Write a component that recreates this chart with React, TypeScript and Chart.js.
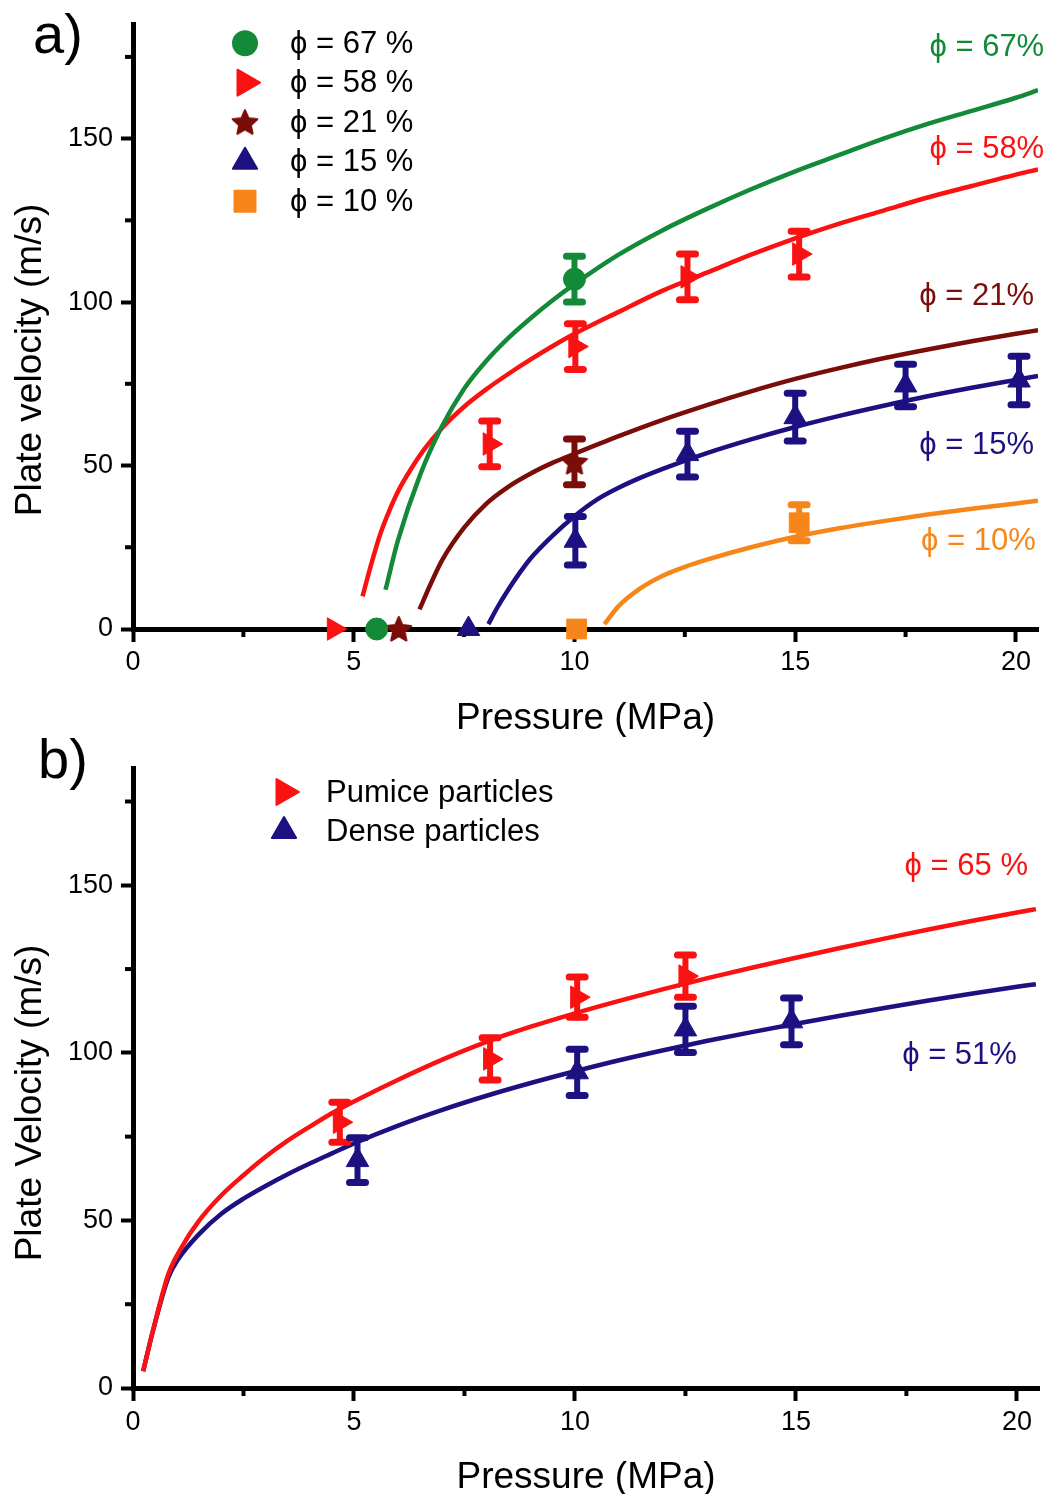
import React, { useEffect, useRef } from 'react';
import { Chart, registerables } from 'chart.js';

Chart.register(...registerables);

const FONT = '"Liberation Sans", Arimo, Arial, sans-serif';

// ---------- shared axis ticks ----------
const xMajorTicks = [0, 5, 10, 15, 20];
const xMinorTicks = [2.5, 7.5, 12.5, 17.5];
const yMajorTicks = [0, 50, 100, 150];
const yMinorTicks = [25, 75, 125, 175];

// ---------- panel a : fitted curves ----------
const aCurve67X = [5.72, 6.0, 6.5, 7.0, 7.5, 8.0, 8.5, 9.0, 9.5, 10.0, 11.0, 12.0, 13.0, 14.0, 15.0, 16.0, 17.0, 18.0, 19.0, 20.0, 20.5];
const aCurve67Y = [12, 27, 47, 62, 73.5, 82, 89, 95, 100.5, 105.5, 114.5, 122, 128.5, 134.5, 140, 145, 150, 154.5, 158.5, 162.5, 164.8];

const aCurve58X = [5.2, 5.4, 5.6, 5.8, 6.0, 6.3, 6.6, 7.0, 7.5, 8.0, 8.5, 9.0, 9.5, 10.0, 11.0, 12.0, 13.0, 14.0, 15.0, 16.0, 17.0, 18.0, 19.0, 20.0, 20.5];
const aCurve58Y = [10, 20, 29, 36, 42, 49, 55, 61.5, 68, 73.3, 78, 82.4, 86.5, 90.3, 97, 103.5, 109, 114.5, 119.5, 124, 128, 132, 135.5, 139, 140.6];

const aCurve21X = [6.49, 6.75, 7.0, 7.5, 8.0, 8.5, 9.0, 9.5, 10.0, 11.0, 12.0, 13.0, 14.0, 15.0, 16.0, 17.0, 18.0, 19.0, 20.0, 20.5];
const aCurve21Y = [6, 14, 21, 31, 38.3, 43.5, 47.5, 50.8, 53.6, 59, 64, 68.5, 72.7, 76.5, 79.8, 82.8, 85.5, 88, 90.3, 91.4];

const aCurve15X = [8.05, 8.25, 8.5, 8.75, 9.0, 9.5, 10.0, 10.5, 11.0, 11.5, 12.0, 13.0, 14.0, 15.0, 16.0, 17.0, 18.0, 19.0, 20.0, 20.5];
const aCurve15Y = [1.5, 6.5, 12, 17, 21.5, 28.5, 34.5, 39.5, 43.2, 46.3, 49, 53.8, 58, 61.8, 65.2, 68.3, 71.2, 73.8, 76.2, 77.4];

const aCurve10X = [10.68, 11.0, 11.5, 12.0, 12.5, 13.0, 14.0, 15.0, 16.0, 17.0, 18.0, 19.0, 20.0, 20.5];
const aCurve10Y = [1.5, 7, 12.5, 16.3, 19, 21.2, 25, 28.2, 30.8, 33, 35, 36.8, 38.4, 39.2];

// ---------- panel a : measurements (value, +/- error) ----------
const aPts67X = [5.52, 10.0];
const aPts67Y = [0, 107];
const aPts67Err = [0, 7];

const aPts58X = [4.55, 8.08, 10.02, 12.56, 15.09];
const aPts58Y = [0, 56.6, 86.4, 107.7, 114.7];
const aPts58Err = [0, 7, 7, 7, 7];

const aPts21X = [6.02, 10.0];
const aPts21Y = [0, 51.1];
const aPts21Err = [0, 7];

const aPts15X = [7.6, 10.02, 12.56, 15.0, 17.5, 20.07];
const aPts15Y = [0, 27, 53.5, 64.8, 74.5, 76];
const aPts15Err = [0, 7.4, 7, 7.3, 6.5, 7.4];

const aPts10X = [10.05, 15.09];
const aPts10Y = [0, 32.5];
const aPts10Err = [0, 5.5];

const aLegendLabels = ['ϕ = 67 %', 'ϕ = 58 %', 'ϕ = 21 %', 'ϕ = 15 %', 'ϕ = 10 %'];
const aCurveLabels = ['ϕ = 67%', 'ϕ = 58%', 'ϕ = 21%', 'ϕ = 15%', 'ϕ = 10%'];
const aCurveLabelX = [20.64, 20.64, 20.41, 20.41, 20.45];
const aCurveLabelY = [178, 146.7, 101.8, 56.2, 26.7];

// ---------- panel b ----------
const bCurvePumiceX = [0.23, 0.45, 0.8, 1.1, 1.5, 2.0, 2.5, 3.0, 3.5, 4.0, 4.5, 5.0, 6.0, 7.0, 8.0, 9.0, 10.0, 11.0, 12.0, 13.0, 14.0, 15.0, 16.0, 17.0, 18.0, 19.0, 20.0, 20.43];
const bCurvePumiceY = [5, 17, 34, 42, 50, 57.5, 63.5, 69, 73.8, 78, 82, 85.5, 92, 98, 103.3, 107.8, 111.8, 115.5, 119, 122.3, 125.4, 128.4, 131.3, 134.1, 136.8, 139.4, 141.9, 142.9];

const bCurveDenseX = [0.23, 0.45, 0.8, 1.0, 1.5, 2.0, 2.5, 3.0, 3.5, 4.0, 4.5, 5.0, 6.0, 7.0, 8.0, 9.0, 10.0, 11.0, 12.0, 13.0, 14.0, 15.0, 16.0, 17.0, 18.0, 19.0, 20.0, 20.43];
const bCurveDenseY = [5, 17, 33, 38, 46, 52, 56.5, 60.3, 63.8, 67, 70, 73, 78.3, 83, 87.2, 91, 94.5, 97.8, 100.8, 103.6, 106.2, 108.7, 111.1, 113.4, 115.6, 117.7, 119.7, 120.5];

const bPtsPumiceX = [4.68, 8.08, 10.05, 12.5];
const bPtsPumiceY = [79.3, 98.2, 116.6, 122.9];
const bPtsPumiceErr = [6, 6.3, 6, 6.3];

const bPtsDenseX = [5.08, 10.05, 12.5, 14.9];
const bPtsDenseY = [68, 94.2, 107, 109.4];
const bPtsDenseErr = [6.7, 6.9, 6.9, 7];

const bLegendLabels = ['Pumice particles', 'Dense particles'];
const bCurveLabels = ['ϕ = 65 %', 'ϕ = 51%'];
const bCurveLabelX = [20.25, 20.0];
const bCurveLabelY = [155.7, 99.3];

// ---------- styles ----------
const GREEN = '#138a38';
const RED = '#fa1212';
const BROWN = '#7b0d08';
const BLUE = '#1d1182';
const ORANGE = '#f7861a';

type Kind = 'circle' | 'triRight' | 'star' | 'triUp' | 'square';

const pts = (xs: number[], ys: number[]) => xs.map((x, i) => ({ x, y: ys[i] }));

function makeStar(color: string, R: number): HTMLCanvasElement {
  const c = document.createElement('canvas');
  const s = Math.ceil(R * 2 + 4);
  c.width = s;
  c.height = s;
  const g = c.getContext('2d')!;
  g.fillStyle = color;
  g.strokeStyle = color;
  g.lineWidth = 2;
  g.lineJoin = 'round';
  g.beginPath();
  for (let k = 0; k < 10; k++) {
    const rr = k % 2 === 0 ? R : R * 0.47;
    const a = -Math.PI / 2 + (k * Math.PI) / 5;
    const px = s / 2 + rr * Math.cos(a);
    const py = s / 2 + 1 + rr * Math.sin(a);
    if (k === 0) g.moveTo(px, py);
    else g.lineTo(px, py);
  }
  g.closePath();
  g.fill();
  g.stroke();
  return c;
}

function drawMarker(ctx: CanvasRenderingContext2D, kind: Kind, x: number, y: number, r: number, color: string, star?: HTMLCanvasElement) {
  ctx.save();
  ctx.fillStyle = color;
  ctx.strokeStyle = color;
  ctx.lineWidth = 2;
  ctx.lineJoin = 'round';
  ctx.beginPath();
  if (kind === 'circle') {
    ctx.arc(x, y, r, 0, Math.PI * 2);
  } else if (kind === 'triRight') {
    ctx.moveTo(x + r, y);
    ctx.lineTo(x - r / 2, y - r * 0.866);
    ctx.lineTo(x - r / 2, y + r * 0.866);
    ctx.closePath();
  } else if (kind === 'triUp') {
    ctx.moveTo(x, y - r);
    ctx.lineTo(x + r * 0.866, y + r / 2);
    ctx.lineTo(x - r * 0.866, y + r / 2);
    ctx.closePath();
  } else if (kind === 'square') {
    ctx.rect(x - r, y - r, 2 * r, 2 * r);
  } else if (kind === 'star' && star) {
    ctx.drawImage(star, x - star.width / 2, y - star.height / 2);
    ctx.restore();
    return;
  }
  ctx.fill();
  ctx.stroke();
  ctx.restore();
}

function lineDs(xs: number[], ys: number[], color: string) {
  return {
    type: 'line',
    data: pts(xs, ys),
    borderColor: color,
    backgroundColor: color,
    borderWidth: 4.5,
    pointRadius: 0,
    fill: false,
    cubicInterpolationMode: 'monotone',
    order: 2,
  };
}

function pointDs(xs: number[], ys: number[], errs: number[], color: string, style: any, radius: number, rotation = 0) {
  return {
    type: 'scatter',
    data: pts(xs, ys),
    errors: errs,
    backgroundColor: color,
    borderColor: color,
    borderWidth: 1,
    pointStyle: style,
    pointRadius: radius,
    pointRotation: rotation,
    showLine: false,
    clip: false,
    order: 1,
  };
}

interface Decor {
  xTitleBaseline: number;
  yTitle: string;
  yTitleCenter: number;
  panel: string;
  panelX: number;
  panelY: number;
  legend: { kind: Kind; color: string; label: string; r: number }[];
  legendMarkerX: number;
  legendTextX: number;
  legendY0: number;
  legendStep: number;
  curveLabels: string[];
  curveLabelX: number[];
  curveLabelY: number[];
  curveColors: string[];
  star?: HTMLCanvasElement;
}

function decorPlugin(d: Decor) {
  return {
    id: 'decor',
    beforeDatasetsDraw(chart: any) {
      const ctx: CanvasRenderingContext2D = chart.ctx;
      const xs = chart.scales.x;
      const ys = chart.scales.y;
      const area = chart.chartArea;
      ctx.save();
      ctx.strokeStyle = '#000';
      ctx.lineWidth = 4;
      xMinorTicks.forEach((v) => {
        const px = xs.getPixelForValue(v);
        ctx.beginPath();
        ctx.moveTo(px, area.bottom);
        ctx.lineTo(px, area.bottom + 8);
        ctx.stroke();
      });
      yMinorTicks.forEach((v) => {
        const py = ys.getPixelForValue(v);
        ctx.beginPath();
        ctx.moveTo(area.left, py);
        ctx.lineTo(area.left - 8, py);
        ctx.stroke();
      });
      ctx.restore();
    },
    afterDatasetsDraw(chart: any) {
      const ctx: CanvasRenderingContext2D = chart.ctx;
      const xs = chart.scales.x;
      const ys = chart.scales.y;
      chart.data.datasets.forEach((ds: any) => {
        if (!ds.errors) return;
        ctx.save();
        ctx.strokeStyle = ds.backgroundColor;
        ctx.lineCap = 'round';
        ds.data.forEach((p: any, j: number) => {
          const e = ds.errors[j];
          if (!e) return;
          const px = xs.getPixelForValue(p.x);
          const t = ys.getPixelForValue(p.y + e);
          const b = ys.getPixelForValue(p.y - e);
          ctx.lineWidth = 6;
          ctx.beginPath();
          ctx.moveTo(px, t);
          ctx.lineTo(px, b);
          ctx.stroke();
          ctx.lineWidth = 7;
          ctx.beginPath();
          ctx.moveTo(px - 8, t);
          ctx.lineTo(px + 8, t);
          ctx.moveTo(px - 8, b);
          ctx.lineTo(px + 8, b);
          ctx.stroke();
        });
        ctx.restore();
      });
    },
    afterDraw(chart: any) {
      const ctx: CanvasRenderingContext2D = chart.ctx;
      const xs = chart.scales.x;
      const ys = chart.scales.y;
      const area = chart.chartArea;
      ctx.save();
      ctx.fillStyle = '#000';
      // axis titles
      ctx.font = `37px ${FONT}`;
      ctx.textAlign = 'center';
      ctx.textBaseline = 'alphabetic';
      ctx.fillText('Pressure (MPa)', (area.left + area.right) / 2, d.xTitleBaseline);
      ctx.save();
      ctx.translate(41, d.yTitleCenter);
      ctx.rotate(-Math.PI / 2);
      ctx.fillText(d.yTitle, 0, 0);
      ctx.restore();
      // panel label
      ctx.font = `56px ${FONT}`;
      ctx.textAlign = 'left';
      ctx.fillText(d.panel, d.panelX, d.panelY);
      // legend
      ctx.font = `31px ${FONT}`;
      ctx.textBaseline = 'middle';
      d.legend.forEach((it, i) => {
        const y = area.top + d.legendY0 + i * d.legendStep;
        drawMarker(ctx, it.kind, area.left + d.legendMarkerX, y, it.r, it.color, d.star);
        ctx.fillStyle = '#000';
        ctx.fillText(it.label, area.left + d.legendTextX, y + 1);
      });
      // curve labels
      ctx.textAlign = 'right';
      d.curveLabels.forEach((t, i) => {
        ctx.fillStyle = d.curveColors[i];
        ctx.fillText(t, xs.getPixelForValue(d.curveLabelX[i]), ys.getPixelForValue(d.curveLabelY[i]));
      });
      ctx.restore();
    },
  };
}

function makeOptions(padTop: number, xAxisH: number, xTickPad: number) {
  return {
    responsive: false,
    animation: false,
    events: [],
    layout: { padding: { top: padTop, right: 14, left: 0, bottom: 0 } },
    plugins: { legend: { display: false }, tooltip: { enabled: false } },
    scales: {
      x: {
        type: 'linear',
        min: 0,
        max: 20.5,
        afterBuildTicks: (s: any) => {
          s.ticks = xMajorTicks.map((v) => ({ value: v }));
        },
        afterFit: (s: any) => {
          s.height = xAxisH;
        },
        grid: { drawOnChartArea: false, drawTicks: true, tickLength: 13, tickWidth: 4, tickColor: '#000' },
        border: { display: true, width: 5, color: '#000' },
        ticks: { color: '#000', font: { family: FONT, size: 27 }, padding: xTickPad, maxRotation: 0, autoSkip: false },
      },
      y: {
        type: 'linear',
        min: 0,
        max: 185,
        afterBuildTicks: (s: any) => {
          s.ticks = yMajorTicks.map((v) => ({ value: v }));
        },
        afterFit: (s: any) => {
          s.width = 133;
        },
        grid: { drawOnChartArea: false, drawTicks: true, tickLength: 12, tickWidth: 4, tickColor: '#000' },
        border: { display: true, width: 5, color: '#000' },
        ticks: { color: '#000', font: { family: FONT, size: 27 }, padding: 8, autoSkip: false },
      },
    },
  };
}

function configA(star: HTMLCanvasElement): any {
  return {
    type: 'scatter',
    data: {
      datasets: [
        pointDs(aPts67X, aPts67Y, aPts67Err, GREEN, 'circle', 11),
        pointDs(aPts58X, aPts58Y, aPts58Err, RED, 'triangle', 13, 90),
        pointDs(aPts21X, aPts21Y, aPts21Err, BROWN, star, 13),
        pointDs(aPts15X, aPts15Y, aPts15Err, BLUE, 'triangle', 13),
        pointDs(aPts10X, aPts10Y, aPts10Err, ORANGE, 'rect', 14),
        lineDs(aCurve67X, aCurve67Y, GREEN),
        lineDs(aCurve58X, aCurve58Y, RED),
        lineDs(aCurve21X, aCurve21Y, BROWN),
        lineDs(aCurve15X, aCurve15Y, BLUE),
        lineDs(aCurve10X, aCurve10Y, ORANGE),
      ],
    },
    options: makeOptions(20, 116, 4),
    plugins: [
      decorPlugin({
        xTitleBaseline: 729,
        yTitle: 'Plate velocity (m/s)',
        yTitleCenter: 360,
        panel: 'a)',
        panelX: 33,
        panelY: 53,
        legend: [
          { kind: 'circle', color: GREEN, label: aLegendLabels[0], r: 12 },
          { kind: 'triRight', color: RED, label: aLegendLabels[1], r: 15 },
          { kind: 'star', color: BROWN, label: aLegendLabels[2], r: 13 },
          { kind: 'triUp', color: BLUE, label: aLegendLabels[3], r: 14 },
          { kind: 'square', color: ORANGE, label: aLegendLabels[4], r: 10.5 },
        ],
        legendMarkerX: 112,
        legendTextX: 157,
        legendY0: 19,
        legendStep: 39.5,
        curveLabels: aCurveLabels,
        curveLabelX: aCurveLabelX,
        curveLabelY: aCurveLabelY,
        curveColors: [GREEN, RED, BROWN, BLUE, ORANGE],
        star,
      }),
    ],
  };
}

function configB(): any {
  return {
    type: 'scatter',
    data: {
      datasets: [
        pointDs(bPtsPumiceX, bPtsPumiceY, bPtsPumiceErr, RED, 'triangle', 13, 90),
        pointDs(bPtsDenseX, bPtsDenseY, bPtsDenseErr, BLUE, 'triangle', 13),
        lineDs(bCurvePumiceX, bCurvePumiceY, RED),
        lineDs(bCurveDenseX, bCurveDenseY, BLUE),
      ],
    },
    options: makeOptions(43, 106, 5),
    plugins: [
      decorPlugin({
        xTitleBaseline: 763,
        yTitle: 'Plate Velocity (m/s)',
        yTitleCenter: 378,
        panel: 'b)',
        panelX: 38,
        panelY: 53,
        legend: [
          { kind: 'triRight', color: RED, label: bLegendLabels[0], r: 15 },
          { kind: 'triUp', color: BLUE, label: bLegendLabels[1], r: 14 },
        ],
        legendMarkerX: 151,
        legendTextX: 193,
        legendY0: 24,
        legendStep: 39,
        curveLabels: bCurveLabels,
        curveLabelX: bCurveLabelX,
        curveLabelY: bCurveLabelY,
        curveColors: [RED, BLUE],
      }),
    ],
  };
}

export default function App() {
  const topRef = useRef<HTMLCanvasElement>(null);
  const botRef = useRef<HTMLCanvasElement>(null);

  useEffect(() => {
    document.body.style.margin = '0';
    document.body.style.background = '#fff';
    const star = makeStar(BROWN, 13);
    const c1 = new Chart(topRef.current!, configA(star));
    const c2 = new Chart(botRef.current!, configB());
    return () => {
      c1.destroy();
      c2.destroy();
    };
  }, []);

  return (
    <div style={{ position: 'relative', width: 1053, height: 1494, background: '#fff', overflow: 'hidden' }}>
      <canvas ref={topRef} width={1053} height={745} style={{ position: 'absolute', left: 0, top: 0 }} />
      <canvas ref={botRef} width={1053} height={769} style={{ position: 'absolute', left: 0, top: 725 }} />
    </div>
  );
}
